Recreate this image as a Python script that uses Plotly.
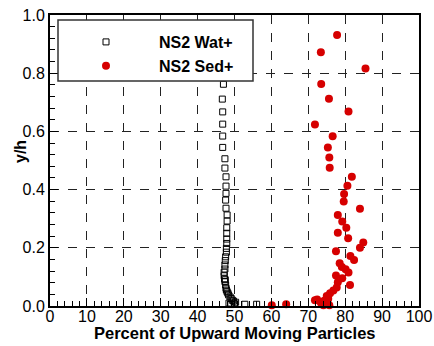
import plotly.graph_objects as go

# Water (open squares)
wat_x = [47.0, 47.0, 47.0, 47.0, 46.7, 46.8, 46.8, 46.8, 46.8, 47.4, 47.4, 47.7, 47.7, 47.7,
         47.6, 47.7, 48.0, 48.0, 47.9, 47.9, 47.9, 47.9, 47.8, 47.8, 47.6, 47.5, 47.4, 47.4,
         47.2, 47.2, 47.3, 47.4, 47.6, 47.7, 48.0, 48.4, 49.1, 49.7, 50.3, 52.8, 56.0,
         47.5, 47.8, 48.2, 48.8, 49.4, 50.0, 48.5, 49.0]
wat_y = [0.931, 0.872, 0.816, 0.762, 0.711, 0.667, 0.625, 0.584, 0.545, 0.506, 0.474, 0.444, 0.412, 0.387,
         0.364, 0.336, 0.313, 0.292, 0.269, 0.250, 0.230, 0.215, 0.198, 0.185, 0.169, 0.156, 0.141, 0.127,
         0.116, 0.104, 0.093, 0.084, 0.072, 0.061, 0.049, 0.038, 0.026, 0.017, 0.013, 0.006, 0.006,
         0.090, 0.055, 0.044, 0.031, 0.020, 0.008, 0.010, 0.005]

# Sediment (red filled circles)
sed_x = [77.8, 73.4, 85.5, 73.5, 75.6, 80.9, 71.8, 76.6, 75.3, 75.7, 75.8, 81.8, 80.6, 79.7, 79.6,
         84.0, 78.0, 79.2, 80.3, 78.0, 80.8, 84.9, 84.0, 77.5, 81.4, 82.4, 78.5, 79.1, 80.1, 80.9,
         77.5, 79.2, 78.0, 81.3, 77.7, 76.8, 75.9, 75.0, 75.4, 72.4, 74.3, 71.8, 73.4, 74.8, 75.7,
         74.1, 64.0, 60.1]
sed_y = [0.931, 0.872, 0.816, 0.763, 0.712, 0.668, 0.624, 0.583, 0.545, 0.510, 0.475, 0.444, 0.413, 0.385, 0.359,
         0.334, 0.313, 0.290, 0.269, 0.252, 0.233, 0.218, 0.200, 0.188, 0.172, 0.158, 0.147, 0.134, 0.126, 0.115,
         0.105, 0.095, 0.082, 0.072, 0.064, 0.053, 0.044, 0.034, 0.025, 0.022, 0.018, 0.020, 0.011, 0.009, 0.003,
         0.003, 0.006, 0.003]

x_ticks = [0, 10, 20, 30, 40, 50, 60, 70, 80, 90, 100]
y_ticks = [0.0, 0.2, 0.4, 0.6, 0.8, 1.0]

x_title = "Percent of Upward Moving Particles"
y_title = "y/h"

FONT = "Liberation Sans, Arial, sans-serif"

fig = go.Figure()
fig.add_trace(go.Scatter(
    x=wat_x, y=wat_y, mode="markers", name="NS2 Wat+",
    marker=dict(symbol="square-open", size=6, color="black", line=dict(width=1)),
    cliponaxis=False))
fig.add_trace(go.Scatter(
    x=sed_x, y=sed_y, mode="markers", name="NS2 Sed+",
    marker=dict(symbol="circle", size=8, color="#D60000", line=dict(width=0)),
    cliponaxis=False))

# legend box
fig.add_shape(type="rect", xref="paper", yref="paper",
              x0=8/369, x1=203/369, y0=(306-81)/291, y1=(306-20)/291,
              fillcolor="white", line=dict(color="#333", width=1.5), layer="above")

# axis titles as annotations
fig.add_annotation(text=f"<b>{x_title}</b>", xref="paper", yref="paper",
                   x=0.5, y=(306-333)/291, xanchor="center", yanchor="middle",
                   showarrow=False, font=dict(family=FONT, size=16.5, color="black"))
fig.add_annotation(text=f"<b>{y_title}</b>", xref="paper", yref="paper",
                   x=(20-50)/369, y=(306-152)/291, xanchor="center", yanchor="middle",
                   textangle=-90, showarrow=False, font=dict(family=FONT, size=16, color="black"))

fig.update_layout(
    width=434, height=346,
    margin=dict(l=50, r=15, t=15, b=40, autoexpand=False),
    paper_bgcolor="white", plot_bgcolor="white",
    font=dict(family=FONT, size=16, color="black"),
    showlegend=True,
    legend=dict(x=3/369, y=(306-25)/291, xanchor="left", yanchor="top",
                bgcolor="rgba(0,0,0,0)", borderwidth=0, itemwidth=96,
                font=dict(family=FONT, size=16, color="black", weight="bold")),
    xaxis=dict(range=[0, 100], tickvals=x_ticks, ticktext=[str(v) for v in x_ticks],
               showline=True, linecolor="black", linewidth=2, mirror=True,
               ticks="inside", ticklen=8, tickwidth=1, tickcolor="black",
               showgrid=True, gridcolor="#222", griddash="dash", gridwidth=1,
               zeroline=False, automargin=False, ticklabelstandoff=-5,
               minor=dict(dtick=2, ticks="inside", ticklen=5, tickcolor="black", showgrid=False),
               tickfont=dict(size=16)),
    yaxis=dict(range=[0, 1], tickvals=y_ticks, ticktext=[f"{v:.1f}" for v in y_ticks],
               showline=True, linecolor="black", linewidth=2, mirror=True,
               ticks="inside", ticklen=8, tickwidth=1, tickcolor="black",
               showgrid=True, gridcolor="#222", griddash="dash", gridwidth=1,
               zeroline=False, automargin=False,
               minor=dict(dtick=0.04, ticks="inside", ticklen=5, tickcolor="black", showgrid=False),
               tickfont=dict(size=16)),
)

fig.write_html("out.html")
